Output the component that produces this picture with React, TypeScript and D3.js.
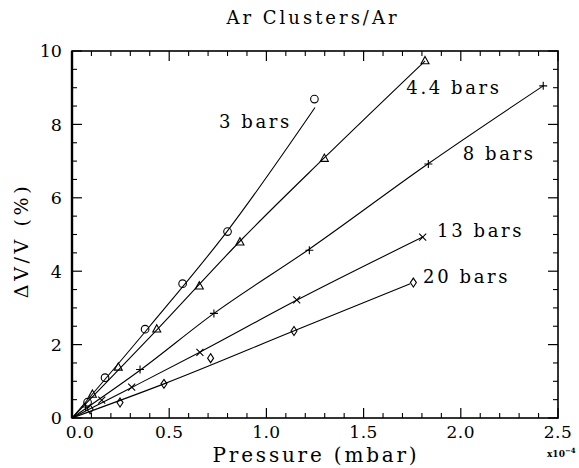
import { useMemo } from "react";
import * as d3 from "d3";

const WIDTH = 579;
const HEIGHT = 468;
const MARGIN = { top: 51, right: 21, bottom: 50, left: 72 };
const FONT = "'DejaVu Serif', 'Liberation Serif', serif";

// Pressure (x10^-4 mbar) and ΔV/V (%)
const P_3 = [0.08, 0.17, 0.376, 0.569, 0.8, 1.247];
const DV_3 = [0.43, 1.1, 2.42, 3.66, 5.08, 8.69];
const P_44 = [0.105, 0.238, 0.436, 0.655, 0.864, 1.298, 1.816];
const DV_44 = [0.64, 1.38, 2.42, 3.59, 4.79, 7.07, 9.73];
const P_8 = [0.07, 0.35, 0.73, 1.221, 1.833, 2.424];
const DV_8 = [0.3, 1.32, 2.85, 4.57, 6.92, 9.05];
const P_13 = [0.153, 0.307, 0.658, 1.156, 1.804];
const DV_13 = [0.49, 0.84, 1.79, 3.22, 4.93];
const P_20 = [0.093, 0.247, 0.473, 0.713, 1.142, 1.756];
const DV_20 = [0.24, 0.42, 0.93, 1.63, 2.37, 3.69];

// hand-drawn fit curves (knots)
const FIT_P_3 = [0, 0.4, 0.8, 1.25];
const FIT_DV_3 = [0, 2.5, 5.1, 8.46];
const FIT_P_44 = [0, 0.44, 0.87, 1.3, 1.816];
const FIT_DV_44 = [0, 2.42, 4.85, 7.1, 9.73];
const FIT_P_8 = [0, 0.35, 0.73, 1.22, 1.83, 2.424];
const FIT_DV_8 = [0, 1.3, 2.85, 4.6, 6.92, 9.05];
const FIT_P_13 = [0, 0.31, 0.66, 1.16, 1.804];
const FIT_DV_13 = [0, 0.84, 1.8, 3.22, 4.93];
const FIT_P_20 = [0, 0.473, 1.14, 1.74];
const FIT_DV_20 = [0, 0.93, 2.37, 3.66];

const SERIES_NAMES = ["3 bars", "4.4 bars", "8 bars", "13 bars", "20 bars"];
const MARKERS = ["circle", "triangle", "plus", "cross", "diamond"];

const X_TICKS = [0, 0.5, 1.0, 1.5, 2.0, 2.5];
const X_TICK_LABELS = ["0.0", "0.5", "1.0", "1.5", "2.0", "2.5"];
const Y_TICKS = [0, 2, 4, 6, 8, 10];
const Y_TICK_LABELS = ["0", "2", "4", "6", "8", "10"];

// where each series name sits, in data units (left x, baseline y)
const LABEL_AT = [
  [0.756, 7.9],
  [1.72, 8.83],
  [2.01, 7.04],
  [1.878, 4.94],
  [1.806, 3.69],
];

function Marker({ kind, x, y }: { kind: string; x: number; y: number }) {
  const s = { fill: "none", stroke: "#000", strokeWidth: 1.1 };
  if (kind === "circle") return <circle cx={x} cy={y} r={3.8} {...s} />;
  if (kind === "triangle")
    return <path d={`M${x},${y - 4.5}L${x + 4},${y + 2.8}L${x - 4},${y + 2.8}Z`} {...s} />;
  if (kind === "plus")
    return <path d={`M${x - 4},${y}H${x + 4}M${x},${y - 4}V${y + 4}`} {...s} />;
  if (kind === "cross")
    return <path d={`M${x - 3.5},${y - 3.5}L${x + 3.5},${y + 3.5}M${x + 3.5},${y - 3.5}L${x - 3.5},${y + 3.5}`} {...s} />;
  return <path d={`M${x},${y - 4.5}L${x + 3},${y}L${x},${y + 4.5}L${x - 3},${y}Z`} {...s} />;
}

export default function App() {
  const { x, y, series, fits, xMinor, yMinor } = useMemo(() => {
    const x = d3.scaleLinear().domain([0, 2.5]).range([MARGIN.left, WIDTH - MARGIN.right]);
    const y = d3.scaleLinear().domain([0, 10]).range([HEIGHT - MARGIN.bottom, MARGIN.top]);
    const ps = [P_3, P_44, P_8, P_13, P_20];
    const vs = [DV_3, DV_44, DV_8, DV_13, DV_20];
    const fps = [FIT_P_3, FIT_P_44, FIT_P_8, FIT_P_13, FIT_P_20];
    const fvs = [FIT_DV_3, FIT_DV_44, FIT_DV_8, FIT_DV_13, FIT_DV_20];
    const series = ps.map((p, i) => p.map((v, j) => [v, vs[i][j]]));
    const line = d3
      .line<number[]>()
      .x((d) => x(d[0]))
      .y((d) => y(d[1]))
      .curve(d3.curveMonotoneX);
    const fits = fps.map((p, i) => line(p.map((v, j) => [v, fvs[i][j]])) as string);
    const xMinor = x.ticks(25).filter((t) => !X_TICKS.some((m) => Math.abs(m - t) < 1e-6));
    const yMinor = y.ticks(20).filter((t) => !Y_TICKS.some((m) => Math.abs(m - t) < 1e-6));
    return { x, y, series, fits, xMinor, yMinor };
  }, []);

  const [x0, x1] = x.range();
  const [y0, y1] = y.range();
  const MAJ = 10;
  const MIN = 5;

  return (
    <div style={{ position: "absolute", left: 0, top: 0, background: "#fff" }}>
      <svg width={WIDTH} height={HEIGHT} fontFamily={FONT}>
        {/* title */}
        <text x={313} y={24} textAnchor="middle" fontSize={18} letterSpacing="3">
          Ar Clusters/Ar
        </text>

        {/* fit curves */}
        {fits.map((d, i) => (
          <path key={i} d={d} fill="none" stroke="#000" strokeWidth={1.1} />
        ))}

        {/* data markers */}
        {series.map((pts, i) =>
          pts.map((d, j) => <Marker key={`${i}-${j}`} kind={MARKERS[i]} x={x(d[0])} y={y(d[1])} />)
        )}

        {/* series names */}
        {SERIES_NAMES.map((name, i) => (
          <text key={name} x={x(LABEL_AT[i][0])} y={y(LABEL_AT[i][1])} fontSize={18} letterSpacing="2.6">
            {name}
          </text>
        ))}

        {/* frame */}
        <rect x={x0} y={y1} width={x1 - x0} height={y0 - y1} fill="none" stroke="#000" strokeWidth={1.6} />
        <line x1={x0} x2={x0} y1={y1} y2={y0} stroke="#000" strokeWidth={2.4} />

        {/* x ticks, bottom and top, pointing inward */}
        {X_TICKS.map((t) => (
          <g key={`xm${t}`} stroke="#000" strokeWidth={1.2}>
            <line x1={x(t)} x2={x(t)} y1={y0} y2={y0 - MAJ} />
            <line x1={x(t)} x2={x(t)} y1={y1} y2={y1 + MAJ} />
          </g>
        ))}
        {xMinor.map((t) => (
          <g key={`xn${t}`} stroke="#000" strokeWidth={1.1}>
            <line x1={x(t)} x2={x(t)} y1={y0} y2={y0 - MIN} />
            <line x1={x(t)} x2={x(t)} y1={y1} y2={y1 + MIN} />
          </g>
        ))}

        {/* y ticks, left and right, pointing inward */}
        {Y_TICKS.map((t) => (
          <g key={`ym${t}`} stroke="#000" strokeWidth={1.2}>
            <line x1={x0} x2={x0 + MAJ} y1={y(t)} y2={y(t)} />
            <line x1={x1} x2={x1 - MAJ} y1={y(t)} y2={y(t)} />
          </g>
        ))}
        {yMinor.map((t) => (
          <g key={`yn${t}`} stroke="#000" strokeWidth={1.1}>
            <line x1={x0} x2={x0 + MIN} y1={y(t)} y2={y(t)} />
            <line x1={x1} x2={x1 - MIN} y1={y(t)} y2={y(t)} />
          </g>
        ))}

        {/* tick labels */}
        {X_TICKS.map((t, i) => (
          <text key={`xl${t}`} x={x(t) + (i === 0 ? 8 : 0)} y={y0 + 20} textAnchor="middle" fontSize={17} letterSpacing="0.5">
            {X_TICK_LABELS[i]}
          </text>
        ))}
        {Y_TICKS.map((t, i) => (
          <text key={`yl${t}`} x={x0 - 10} y={y(t)} dy="0.36em" textAnchor="end" fontSize={17.5}>
            {Y_TICK_LABELS[i]}
          </text>
        ))}

        {/* axis titles */}
        <text x={316} y={462} textAnchor="middle" fontSize={20} letterSpacing="2.8">
          Pressure (mbar)
        </text>
        <text
          transform={`translate(28,${(y0 + y1) / 2 + 6}) rotate(-90)`}
          textAnchor="middle"
          fontSize={19}
          letterSpacing="3.6">
          ΔV/V (%)
        </text>
        <text x={547} y={457} fontSize={9} fontWeight={700}>
          x10
          <tspan dy={-4} fontSize={7}>
            −4
          </tspan>
        </text>
      </svg>
    </div>
  );
}
